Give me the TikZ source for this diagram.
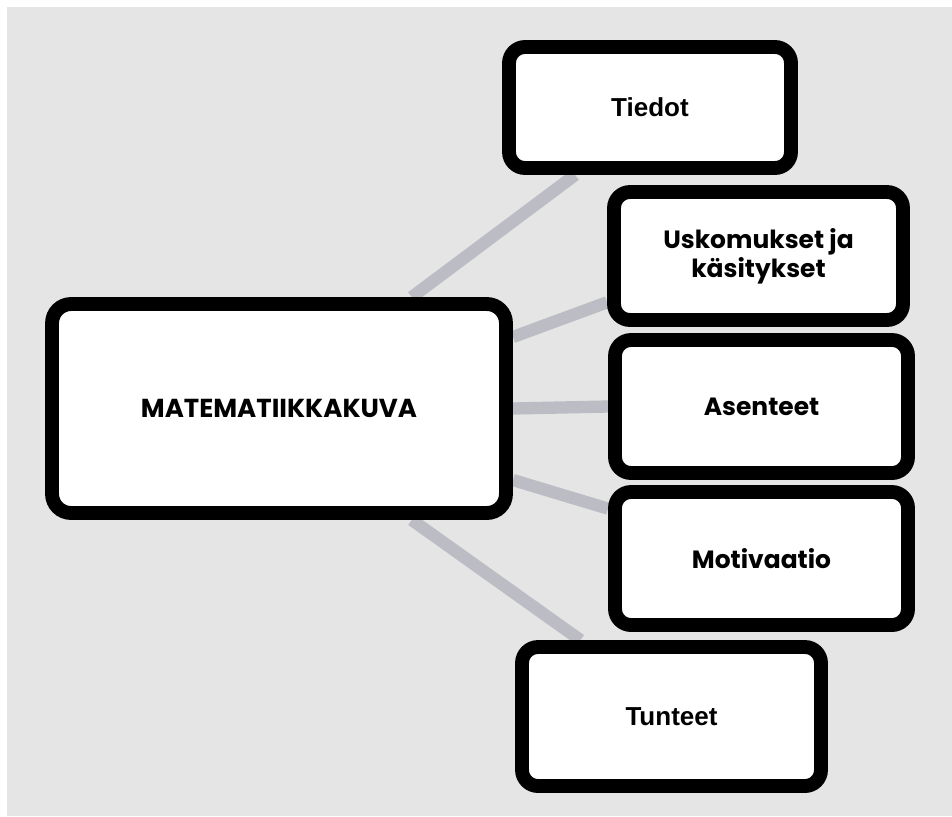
\documentclass[tikz,border=0pt]{standalone}
\usepackage{fontspec}
\setmainfont{Poppins}
\newfontfamily\plainsans{Liberation Sans}
\usepackage{tikz}
\usetikzlibrary{backgrounds, calc}

\definecolor{canvas}{RGB}{229,229,229}
\definecolor{linkgray}{RGB}{188,188,196}

\begin{document}
\begin{tikzpicture}[
  x=0.02cm, y=-0.02cm,
  % --- styles ------------------------------------------------------------
  box/.style={
    rectangle, draw=black, fill=white, line width=7.9pt,
    rounded corners=0.32cm, inner sep=0pt,
    align=center, font=\fontsize{14.2}{16.5}\selectfont\bfseries
  },
  mainbox/.style={box, rounded corners=0.38cm,
    minimum width=9.08cm, minimum height=4.18cm,
    font=\fontsize{14.8}{17}\selectfont\bfseries},
  plainbox/.style={box, font=\plainsans\fontsize{14.8}{17}\selectfont\bfseries},
  link/.style={linkgray, line width=7pt}
]
\useasboundingbox (0,0) rectangle (952,816);

% --------------------- centre -------------------------------------------
\node[mainbox] (kuva) at (279,408.5) {MATEMATIIKKAKUVA};

% --------------------- branches -----------------------------------------
\node[plainbox, minimum width=5.64cm, minimum height=2.42cm]
      (tiedot) at (650,107.5) {Tiedot};
\node[box, minimum width=5.78cm, minimum height=2.56cm]
      (uskom) at (758.5,256) {Uskomukset ja\\käsitykset};
\node[box, minimum width=5.86cm, minimum height=2.66cm]
      (asent) at (761.5,406.5) {Asenteet};
\node[box, minimum width=5.86cm, minimum height=2.66cm]
      (motiv) at (761.5,558.5) {Motivaatio};
\node[plainbox, minimum width=5.98cm, minimum height=2.78cm]
      (tunteet) at (671.5,716.5) {Tunteet};

% --------------------- links (behind the boxes) -------------------------
\begin{scope}[on background layer]
  \fill[canvas] (7,7) rectangle (952,816);
  \draw[link] (kuva.40.6) -- (tiedot.222);
  \draw[link] (kuva.17.9) -- (uskom.197.2);
  \draw[link] (kuva.east) -- (asent.west);
  \draw[link] (kuva.343.5) -- (motiv.162.6);
  \draw[link] (kuva.320.7) -- (tunteet.140.8);
\end{scope}

\end{tikzpicture}
\end{document}
